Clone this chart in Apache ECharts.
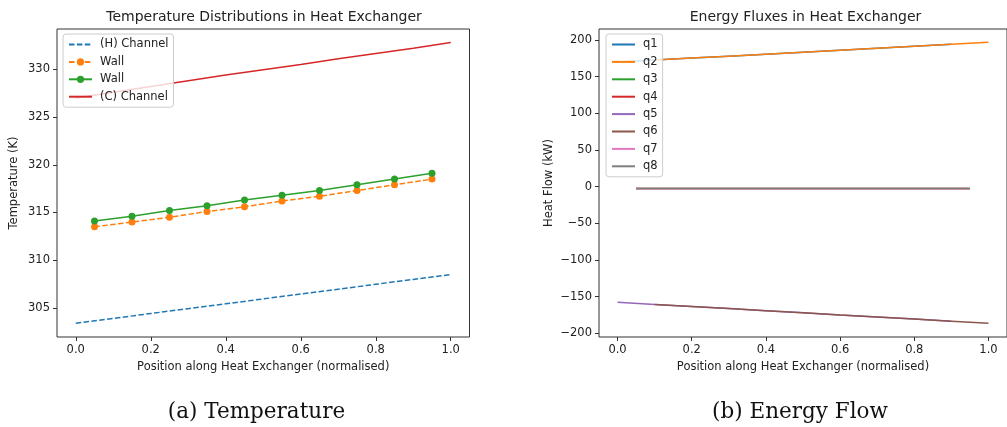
<!DOCTYPE html>
<html>
<head>
<meta charset="utf-8">
<script src="https://cdn.jsdelivr.net/npm/echarts@6/dist/echarts.min.js"></script>
<style>
    html, body { margin: 0; padding: 0; background: #fff; }
    #chart { width: 1007px; height: 427px; }
</style>
</head>
<body>
<div id="chart"></div>
<script>
    // x positions
    var xChannel = [0.0, 0.1, 0.2, 0.3, 0.4, 0.5, 0.6, 0.7, 0.8, 0.9, 1.0];
    var xWall = [0.05, 0.15, 0.25, 0.35, 0.45, 0.55, 0.65, 0.75, 0.85, 0.95];
    var xStart = [0.0, 0.1, 0.2, 0.3, 0.4, 0.5, 0.6, 0.7, 0.8, 0.9];
    var xEnd = [0.1, 0.2, 0.3, 0.4, 0.5, 0.6, 0.7, 0.8, 0.9, 1.0];

    // temperatures (K)
    var tHot = [303.40, 303.91, 304.42, 304.93, 305.44, 305.95, 306.46, 306.97, 307.48, 307.99, 308.50];
    var tWallA = [313.5, 314.0, 314.5, 315.1, 315.6, 316.2, 316.7, 317.3, 317.9, 318.5];
    var tWallB = [314.1, 314.6, 315.2, 315.7, 316.3, 316.8, 317.3, 317.9, 318.5, 319.1];
    var tCold = [327.0, 327.6, 328.2, 328.8, 329.4, 329.95, 330.5, 331.1, 331.65, 332.2, 332.8];

    // heat flows (kW)
    var q1 = [170.0, 172.6, 175.3, 178.0, 180.7, 183.4, 186.1, 188.8, 191.5, 194.2];
    var q2 = [172.6, 175.3, 178.0, 180.7, 183.4, 186.1, 188.8, 191.5, 194.2, 197.0];
    var q3 = [-2.5, -2.5, -2.5, -2.5, -2.5, -2.5, -2.5, -2.5, -2.5, -2.5];
    var q4 = [-2.5, -2.5, -2.5, -2.5, -2.5, -2.5, -2.5, -2.5, -2.5, -2.5];
    var q5 = [-157.7, -160.6, -163.4, -166.3, -169.1, -172.0, -174.9, -177.7, -180.6, -183.4];
    var q6 = [-160.6, -163.4, -166.3, -169.1, -172.0, -174.9, -177.7, -180.6, -183.4, -186.3];
    var q7 = [-3.0, -3.0, -3.0, -3.0, -3.0, -3.0, -3.0, -3.0, -3.0, -3.0];
    var q8 = [-2.5, -2.5, -2.5, -2.5, -2.5, -2.5, -2.5, -2.5, -2.5, -2.5];

    // ticks
    var xTicks = [0.0, 0.2, 0.4, 0.6, 0.8, 1.0];
    var tempTicks = [305, 310, 315, 320, 325, 330];
    var fluxTicks = [-200, -150, -100, -50, 0, 50, 100, 150, 200];

    var colors = ['#1f77b4', '#ff7f0e', '#2ca02c', '#d62728', '#9467bd', '#8c564b', '#e377c2', '#7f7f7f'];

    function pairs(xs, ys) {
        return xs.map(function (x, i) { return [x, ys[i]]; });
    }

    var font = 'DejaVu Sans';
    var txt = { fontFamily: font, fontSize: 11.5, color: '#222' };

    function xAxisOf(gridIndex) {
        return {
            type: 'value', gridIndex: gridIndex, min: -0.05, max: 1.05,
            name: 'Position along Heat Exchanger (normalised)',
            nameLocation: 'middle', nameGap: 22, nameTextStyle: txt,
            axisLine: { show: false, onZero: false },
            axisTick: { show: true, length: 4, lineStyle: { color: '#333' }, customValues: xTicks },
            axisLabel: Object.assign({ margin: 7, customValues: xTicks, formatter: function (v) { return v.toFixed(1); } }, txt),
            splitLine: { show: false }
        };
    }

    function yAxisOf(gridIndex, name, min, max, ticks, gap) {
        return {
            type: 'value', gridIndex: gridIndex, min: min, max: max,
            name: name, nameLocation: 'middle', nameGap: gap, nameTextStyle: txt,
            axisLine: { show: false, onZero: false },
            axisTick: { show: true, length: 4, lineStyle: { color: '#333' }, customValues: ticks },
            axisLabel: Object.assign({ margin: 7, customValues: ticks, formatter: function (v) { return String(v).replace('-', '\u2212'); } }, txt),
            splitLine: { show: false }
        };
    }

    function line(name, xi, yi, data, color, opts) {
        var s = {
            name: name, type: 'line', xAxisIndex: xi, yAxisIndex: yi,
            data: data, color: color, symbol: 'none',
            lineStyle: { width: 1.5, color: color },
            itemStyle: { color: color }
        };
        return Object.assign(s, opts || {});
    }

    // legend entry for a plain line: hide the marker in the icon
    function plain(name) {
        return { name: name, itemStyle: { opacity: 0 } };
    }

    var legendBase = {
        orient: 'vertical', selectedMode: false,
        backgroundColor: 'rgba(255,255,255,0.8)', borderColor: '#ccc', borderWidth: 1, borderRadius: 3,
        padding: [4, 5, 4, 5], itemWidth: 23, itemHeight: 9, itemGap: 4.4,
        textStyle: { fontFamily: font, fontSize: 11.5, color: '#222', lineHeight: 13, padding: [0, 0, 0, 3] }
    };

    var titleStyle = { fontFamily: font, fontSize: 14, fontWeight: 'normal', color: '#222' };
    var captionStyle = { fontFamily: 'DejaVu Serif', fontSize: 21.5, fontWeight: 'normal', color: '#111' };

    var option = {
        animation: false,
        title: [
            { text: 'Temperature Distributions in Heat Exchanger', left: 259, top: 5, textAlign: 'center', textStyle: titleStyle },
            { text: 'Energy Fluxes in Heat Exchanger', left: 800.5, top: 5, textAlign: 'center', textStyle: titleStyle },
            { text: '(a) Temperature', left: 251.5, top: 396, textAlign: 'center', textStyle: captionStyle },
            { text: '(b) Energy Flow', left: 795, top: 396, textAlign: 'center', textStyle: captionStyle }
        ],
        legend: [
            Object.assign({}, legendBase, { left: 63, top: 34, data: [plain('(H) Channel'), 'Wall', 'Wall ', plain('(C) Channel')] }),
            Object.assign({}, legendBase, { left: 606, top: 34, data: ['q1', 'q2', 'q3', 'q4', 'q5', 'q6', 'q7', 'q8'].map(plain) })
        ],
        grid: [
            { left: 57, top: 29, width: 412.5, height: 308, show: true, borderColor: '#333', borderWidth: 1 },
            { left: 599, top: 29, width: 412.5, height: 308, show: true, borderColor: '#333', borderWidth: 1 }
        ],
        xAxis: [xAxisOf(0), xAxisOf(1)],
        yAxis: [
            yAxisOf(0, 'Temperature (K)', 301.96, 334.22, tempTicks, 37),
            yAxisOf(1, 'Heat Flow (kW)', -205, 215, fluxTicks, 44)
        ],
        series: [
            line('(H) Channel', 0, 0, pairs(xChannel, tHot), colors[0], { lineStyle: { width: 1.5, color: colors[0], type: [5.5, 2.4] } }),
            line('Wall', 0, 0, pairs(xWall, tWallA), colors[1], {
                symbol: 'circle', symbolSize: 7, showSymbol: true,
                lineStyle: { width: 1.5, color: colors[1], type: [5.5, 2.4] }
            }),
            line('Wall ', 0, 0, pairs(xWall, tWallB), colors[2], { symbol: 'circle', symbolSize: 7, showSymbol: true }),
            line('(C) Channel', 0, 0, pairs(xChannel, tCold), colors[3]),
            line('q1', 1, 1, pairs(xStart, q1), colors[0]),
            line('q2', 1, 1, pairs(xEnd, q2), colors[1]),
            line('q3', 1, 1, pairs(xWall, q3), colors[2]),
            line('q4', 1, 1, pairs(xWall, q4), colors[3]),
            line('q5', 1, 1, pairs(xStart, q5), colors[4]),
            line('q6', 1, 1, pairs(xEnd, q6), colors[5]),
            line('q7', 1, 1, pairs(xWall, q7), colors[6]),
            line('q8', 1, 1, pairs(xWall, q8), colors[7])
        ]
    };

    var chart = echarts.init(document.getElementById('chart'));
    chart.setOption(option);
</script>
</body>
</html>
